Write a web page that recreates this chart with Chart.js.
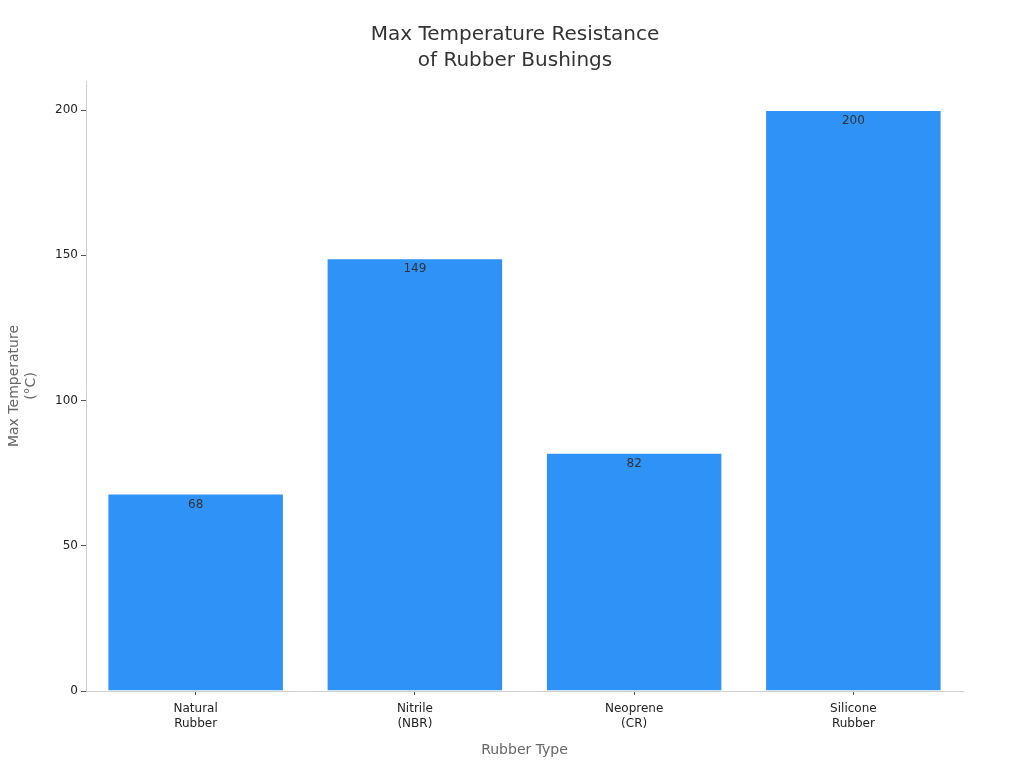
<!DOCTYPE html>
<html lang="en">
<head>
  <meta charset="UTF-8">
  <title>Max Temperature Resistance of Rubber Bushings</title>
  <script src="https://cdn.jsdelivr.net/npm/chart.js"></script>
  <style>
    html, body { margin: 0; padding: 0; background: #fff; }
    .chart-box { width: 1024px; height: 768px; }
  </style>
</head>
<body>
  <div class="chart-box">
    <canvas id="tempChart"></canvas>
  </div>

  <script>
    // chart data
    const rubberTypes = [["Natural", "Rubber"], ["Nitrile", "(NBR)"], ["Neoprene", "(CR)"], ["Silicone", "Rubber"]];
    const maxTemps = [68, 149, 82, 200];
    const yTicks = [0, 50, 100, 150, 200];

    Chart.defaults.font.family = "'DejaVu Sans', sans-serif";

    // draws the value just inside the top of each bar
    const barValueLabels = {
      id: "barValueLabels",
      afterDatasetsDraw(chart) {
        const ctx = chart.ctx;
        const meta = chart.getDatasetMeta(0);
        ctx.save();
        ctx.font = "12px 'DejaVu Sans', sans-serif";
        ctx.fillStyle = "#333";
        ctx.textAlign = "center";
        ctx.textBaseline = "middle";
        meta.data.forEach((bar, i) => {
          ctx.fillText(String(maxTemps[i]), bar.x, bar.y + 11);
        });
        ctx.restore();
      }
    };

    new Chart(document.getElementById("tempChart").getContext("2d"), {
      type: "bar",
      data: {
        labels: rubberTypes,
        datasets: [{
          label: "Max Temperature (°C)",
          data: maxTemps,
          backgroundColor: "#2e92f7",
          borderColor: "rgba(255,255,255,0.45)",
          borderWidth: 1,
          barPercentage: 0.805,
          categoryPercentage: 1.0
        }]
      },
      options: {
        responsive: true,
        maintainAspectRatio: false,
        animation: false,
        layout: { padding: { left: 6, right: 0, top: 0, bottom: 4 } },
        plugins: {
          legend: { display: false },
          tooltip: { enabled: false },
          title: {
            display: true,
            text: ["Max Temperature Resistance", "of Rubber Bushings"],
            color: "#333",
            font: { size: 20, weight: "normal", lineHeight: 1.3 },
            padding: { top: 22, bottom: 7 }
          }
        },
        scales: {
          x: {
            grid: { display: true, drawOnChartArea: false, drawTicks: true, tickLength: 4, offset: false, color: "#555" },
            border: { display: true, color: "#d0d0d0" },
            ticks: { color: "#222", font: { size: 12 }, padding: 7, maxRotation: 0 },
            title: { display: true, text: "Rubber Type", color: "#666", font: { size: 14 }, padding: { top: 8, bottom: 5 } },
            afterFit(scale) { scale.height = 73; }
          },
          y: {
            min: 0,
            max: 210,
            afterBuildTicks(scale) { scale.ticks = yTicks.map(v => ({ value: v })); },
            grid: { display: true, drawOnChartArea: false, drawTicks: true, tickLength: 5, color: "#555" },
            border: { display: true, color: "#d0d0d0" },
            ticks: { color: "#222", font: { size: 12 }, padding: 3 },
            title: { display: true, text: ["Max Temperature", "(°C)"], color: "#666", font: { size: 14, lineHeight: 1.2 }, padding: 0 },
            afterFit(scale) { scale.width = 80; }
          },
          // empty right-hand axis, only reserves the right margin
          yRight: {
            position: "right",
            display: true,
            grid: { display: false },
            border: { display: false },
            ticks: { display: false },
            afterFit(scale) { scale.width = 61; }
          }
        }
      },
      plugins: [barValueLabels]
    });
  </script>
</body>
</html>
